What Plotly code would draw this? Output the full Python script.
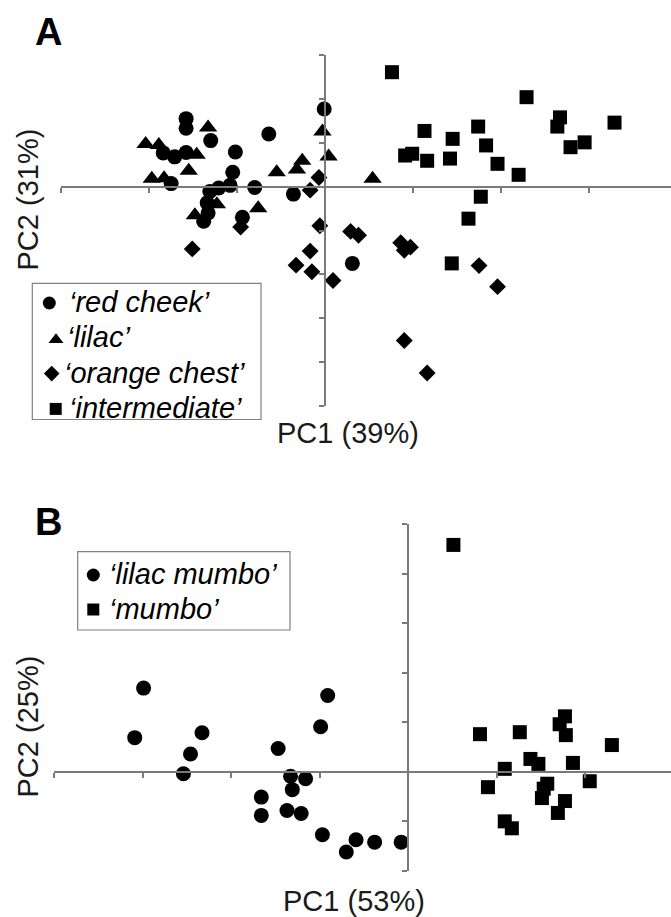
import plotly.graph_objects as go

W, H = 671, 917
FONT = "Liberation Sans, Arial, sans-serif"

# ---------------- Panel A (PC1 39%, PC2 31%) ----------------
red_cheek_x = [-0.01, -1.58, -1.58, -1.30, -0.64, -1.02, -1.84, -1.71, -1.58, -1.05, -1.75,
               -0.80, -1.31, -1.21, -1.08, -1.34, -1.33, -1.38, -0.94, -0.36, 0.31]
red_cheek_y = [1.77, 1.55, 1.33, 1.05, 1.20, 0.79, 0.77, 0.68, 0.78, 0.33, 0.07,
               -0.02, -0.11, -0.03, 0.03, -0.37, -0.60, -0.79, -0.70, -0.17, -1.75]

lilac_x = [-1.33, -2.04, -1.89, -1.46, -1.55, -1.97, -1.83, -0.03, 0.04, -0.55, -0.26,
           -0.32, -0.76, -1.48, -1.23, 0.54]
lilac_y = [1.35, 0.97, 0.95, 0.73, 0.36, 0.18, 0.19, 1.26, 0.69, 0.33, 0.59,
           0.39, -0.49, -0.65, -0.40, 0.18]

orange_chest_x = [-0.07, -0.17, -0.06, -0.96, -1.51, 0.29, 0.38, 0.86, 0.97, 0.90, -0.17,
                  -0.33, -0.15, 0.09, 1.75, 1.96, 0.90, 1.16]
orange_chest_y = [0.21, -0.08, -0.89, -0.92, -1.42, -1.02, -1.11, -1.28, -1.38, -1.45, -1.47,
                  -1.79, -1.94, -2.14, -1.80, -2.28, -3.51, -4.25]

intermediate_x = [0.76, 2.29, 2.67, 2.64, 3.29, 1.13, 1.74, 1.45, 1.83, 2.79, 2.95,
                  0.91, 0.99, 1.16, 1.42, 1.96, 2.20, 1.77, 1.63, 1.44]
intermediate_y = [2.61, 2.04, 1.58, 1.37, 1.46, 1.27, 1.37, 1.09, 0.94, 0.90, 1.01,
                  0.71, 0.75, 0.59, 0.64, 0.52, 0.27, -0.23, -0.73, -1.75]

# ---------------- Panel B (PC1 53%, PC2 25%) ----------------
lilac_mumbo_x = [-2.99, -3.09, -2.33, -2.46, -2.54, -0.91, -0.99, -1.47, -1.33, -1.16,
                 -1.31, -1.66, -1.66, -1.37, -1.21, -0.97, -0.70, -0.59, -0.38, -0.08]
lilac_mumbo_y = [1.69, 0.69, 0.79, 0.36, -0.04, 1.54, 0.91, 0.47, -0.09, -0.14,
                 -0.36, -0.51, -0.88, -0.78, -0.84, -1.27, -1.62, -1.37, -1.42, -1.42]

mumbo_x = [0.51, 0.81, 1.26, 1.77, 1.71, 1.78, 2.30, 1.38, 1.47, 1.86,
           1.09, 0.90, 1.57, 1.53, 2.05, 1.51, 1.77, 1.69, 1.09, 1.17]
mumbo_y = [4.58, 0.76, 0.80, 1.12, 0.96, 0.74, 0.54, 0.26, 0.16, 0.18,
           0.06, -0.31, -0.24, -0.34, -0.19, -0.53, -0.59, -0.83, -1.00, -1.14]

legend_a = ["\u2018red cheek\u2019", "\u2018lilac\u2019", "\u2018orange chest\u2019", "\u2018intermediate\u2019"]
legend_b = ["\u2018lilac mumbo\u2019", "\u2018mumbo\u2019"]
axis_titles = ["PC2 (31%)", "PC1 (39%)", "PC2 (25%)", "PC1 (53%)"]
panel_labels = ["A", "B"]

fig = go.Figure()


def add(x, y, name, symbol, size, xa, ya):
    fig.add_trace(go.Scatter(
        x=x, y=y, mode="markers", name=name, xaxis=xa, yaxis=ya, showlegend=False,
        marker=dict(symbol=symbol, size=size, color="#000000", opacity=1, line=dict(width=0)),
        hoverinfo="skip"))


add(red_cheek_x, red_cheek_y, legend_a[0], "circle", 15, "x", "y")
add(lilac_x, lilac_y, legend_a[1], "triangle-up", 16, "x", "y")
add(orange_chest_x, orange_chest_y, legend_a[2], "diamond", 13, "x", "y")
add(intermediate_x, intermediate_y, legend_a[3], "square", 14, "x", "y")
add(lilac_mumbo_x, lilac_mumbo_y, legend_b[0], "circle", 15, "x2", "y2")
add(mumbo_x, mumbo_y, legend_b[1], "square", 14, "x2", "y2")


def px_x(p):
    return p / W


def px_y(p):
    return 1 - p / H


# ---------------- hand-laid legend boxes (layout in pixel space) ----------------
LEGENDS = [
    dict(names=legend_a, symbols=["circle", "triangle-up", "diamond", "square"],
         sizes=[13, 13, 12, 12], key_x=[49.3, 56.0, 51.7, 55.7], key_dy=[0, 1.5, 0, 0],
         text_x=[67, 65, 62, 67], box=(32.3, 283.3, 261, 419.5), row0=303, dy=35.3),
    dict(names=legend_b, symbols=["circle", "square"],
         sizes=[13, 12], key_x=[93.3, 93.3], key_dy=[0, 0],
         text_x=[107, 107], box=(77.7, 551.7, 290, 630), row0=575, dy=34.5),
]

shapes = []
annotations = []
for j, lg in enumerate(LEGENDS):
    x0, y0, x1, y1 = lg["box"]
    shapes.append(dict(type="rect", xref="paper", yref="paper",
                       x0=px_x(x0), x1=px_x(x1), y0=px_y(y1), y1=px_y(y0),
                       line=dict(color="#808080", width=1.2), fillcolor="rgba(0,0,0,0)"))
    for i, name in enumerate(lg["names"]):
        yc = lg["row0"] + i * lg["dy"]
        fig.add_trace(go.Scatter(
            x=[lg["key_x"][i]], y=[yc + lg["key_dy"][i]], mode="markers",
            xaxis="x3", yaxis="y3", showlegend=False, hoverinfo="skip",
            marker=dict(symbol=lg["symbols"][i], size=lg["sizes"][i], color="#000000",
                        opacity=1, line=dict(width=0))))
        annotations.append(dict(text=name, x=px_x(lg["text_x"][i]), y=px_y(yc - 1),
                                xref="paper", yref="paper", showarrow=False,
                                xanchor="left", yanchor="middle",
                                font=dict(family=FONT, size=29, color="black", style="italic")))

# panel letters and axis titles
TITLE_FONT = dict(family=FONT, size=29, color="#1a1a1a")
annotations += [
    dict(text="<b>%s</b>" % panel_labels[0], x=px_x(48), y=px_y(32.5), xref="paper", yref="paper",
         showarrow=False, xanchor="center", yanchor="middle",
         font=dict(family=FONT, size=38, color="black")),
    dict(text="<b>%s</b>" % panel_labels[1], x=px_x(48.5), y=px_y(521.5), xref="paper", yref="paper",
         showarrow=False, xanchor="center", yanchor="middle",
         font=dict(family=FONT, size=38, color="black")),
    dict(text=axis_titles[0], x=px_x(27.5), y=px_y(200), xref="paper", yref="paper",
         showarrow=False, textangle=-90, xanchor="center", yanchor="middle", font=TITLE_FONT),
    dict(text=axis_titles[1], x=px_x(348), y=px_y(433), xref="paper", yref="paper",
         showarrow=False, xanchor="center", yanchor="middle", font=TITLE_FONT),
    dict(text=axis_titles[2], x=px_x(27.5), y=px_y(727), xref="paper", yref="paper",
         showarrow=False, textangle=-90, xanchor="center", yanchor="middle", font=TITLE_FONT),
    dict(text=axis_titles[3], x=px_x(354), y=px_y(901), xref="paper", yref="paper",
         showarrow=False, xanchor="center", yanchor="middle", font=TITLE_FONT),
]

AX = dict(showgrid=False, zeroline=False, showticklabels=False, ticks="outside",
          ticklen=5, tickwidth=1.5, tickcolor="#7a7a7a", showline=True,
          linecolor="#7a7a7a", linewidth=1.5, dtick=1, tick0=0, fixedrange=True)

fig.update_layout(
    width=W, height=H, autosize=False,
    margin=dict(l=0, r=0, t=0, b=0, pad=0),
    paper_bgcolor="white", plot_bgcolor="rgba(0,0,0,0)",
    showlegend=False,
    xaxis=dict(domain=[px_x(61), 1], range=[-3.002, 3.932], anchor="free",
               position=px_y(187), **AX),
    yaxis=dict(domain=[px_y(406), px_y(55)], range=[-5.002, 3.002], anchor="free",
               position=px_x(325), **AX),
    xaxis2=dict(domain=[px_x(54), 1], range=[-4.002, 2.968], anchor="free",
                position=px_y(772), **AX),
    yaxis2=dict(domain=[px_y(871), px_y(524)], range=[-2.002, 5.002], anchor="free",
                position=px_x(408), **AX),
    # pixel-space overlay used only for the legend keys
    xaxis3=dict(domain=[0, 1], range=[0, W], anchor="y3", visible=False, fixedrange=True),
    yaxis3=dict(domain=[0, 1], range=[H, 0], anchor="x3", visible=False, fixedrange=True),
    shapes=shapes,
    annotations=annotations,
)

fig.write_html("out.html", config={"displayModeBar": False})
